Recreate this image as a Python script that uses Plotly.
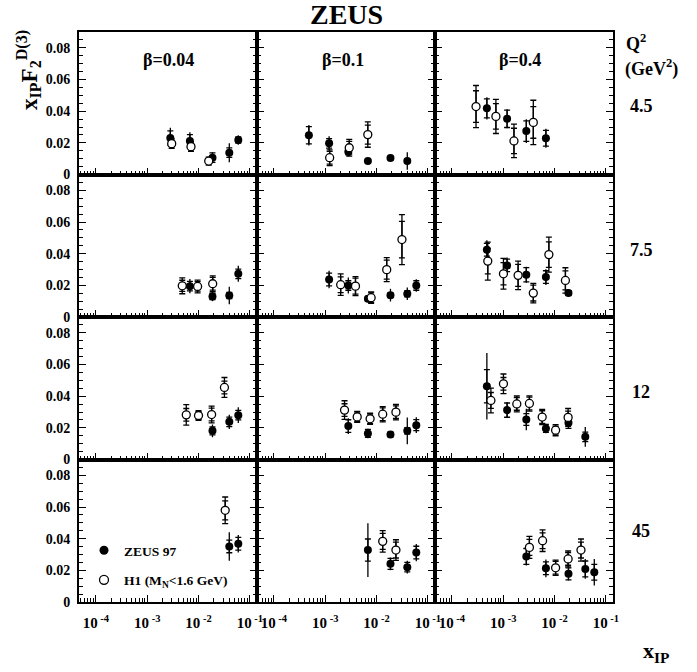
import plotly.graph_objects as go
from plotly.subplots import make_subplots

# Panel grid: beta across columns, Q^2 down rows
betas = [0.04, 0.1, 0.4]
beta_labels = ["β=0.04", "β=0.1", "β=0.4"]
q2_values = [4.5, 7.5, 12, 45]
q2_labels = ["4.5", "7.5", "12", "45"]

x_tickvals = [1e-4, 1e-3, 1e-2, 1e-1]
x_ticktext = ["10<sup> -4</sup>", "10<sup> -3</sup>", "10<sup> -2</sup>", "10<sup> -1</sup>"]
y_tickvals = [0, 0.02, 0.04, 0.06, 0.08]
y_ticktext = ["0", "0.02", "0.04", "0.06", "0.08"]

# ZEUS 97 (LPS) measurements: beta, Q2, x_pom, x_pom*F2D3, stat error, total error
zeus_beta = [0.04]*5 + [0.04]*4 + [0.04]*3 + [0.04]*2 + \
            [0.1]*6 + [0.1]*6 + [0.1]*5 + [0.1]*4 + \
            [0.4]*4 + [0.4]*5 + [0.4]*6 + [0.4]*5
zeus_q2 = [4.5]*5 + [7.5]*4 + [12]*3 + [45]*2 + \
          [4.5]*6 + [7.5]*6 + [12]*5 + [45]*4 + \
          [4.5]*4 + [7.5]*5 + [12]*6 + [45]*5
zeus_xpom = [0.00282, 0.00679, 0.0187, 0.0398, 0.0596,
             0.00679, 0.0187, 0.0398, 0.0596,
             0.0187, 0.0398, 0.0596,
             0.0398, 0.0596,
             0.00048, 0.00119, 0.00282, 0.00679, 0.0187, 0.0398,
             0.00119, 0.00282, 0.00679, 0.0187, 0.0398, 0.0596,
             0.00282, 0.00679, 0.0187, 0.0398, 0.0596,
             0.00679, 0.0187, 0.0398, 0.0596,
             0.00048, 0.00119, 0.00282, 0.00679,
             0.00048, 0.00119, 0.00282, 0.00679, 0.0187,
             0.00048, 0.00119, 0.00282, 0.00679, 0.0187, 0.0398,
             0.00282, 0.00679, 0.0187, 0.0398, 0.0596]
zeus_f2 = [0.0231, 0.0212, 0.0106, 0.0138, 0.0218,
           0.0195, 0.0130, 0.0136, 0.0273,
           0.0181, 0.0238, 0.0280,
           0.0351, 0.0368,
           0.0248, 0.0197, 0.0144, 0.0085, 0.0104, 0.0085,
           0.0237, 0.0199, 0.0115, 0.0138, 0.0147, 0.0199,
           0.0211, 0.0165, 0.0158, 0.0181, 0.0217,
           0.0328, 0.0241, 0.0220, 0.0312,
           0.0418, 0.0352, 0.0274, 0.0229,
           0.0425, 0.0326, 0.0267, 0.0252, 0.0151,
           0.0463, 0.0312, 0.0253, 0.0196, 0.0232, 0.0143,
           0.0288, 0.0213, 0.0178, 0.0209, 0.0188]
zeus_stat = [0.0045, 0.004, 0.003, 0.003, 0.002,
             0.003, 0.002, 0.002, 0.003,
             0.0025, 0.003, 0.003,
             0.004, 0.004,
             0.0055, 0.003, 0.002, 0.001, 0.001, 0.001,
             0.004, 0.003, 0.0015, 0.0015, 0.002, 0.003,
             0.004, 0.0025, 0.0015, 0.002, 0.0035,
             0.007, 0.0035, 0.003, 0.004,
             0.006, 0.0055, 0.0065, 0.005,
             0.004, 0.004, 0.0045, 0.004, 0.0015,
             0.0105, 0.0045, 0.0037, 0.0025, 0.0035, 0.003,
             0.005, 0.004, 0.0038, 0.005, 0.005]
zeus_tot = [0.0065, 0.0055, 0.0035, 0.006, 0.003,
            0.0045, 0.003, 0.0055, 0.005,
            0.004, 0.0045, 0.005,
            0.009, 0.0055,
            0.0065, 0.0045, 0.003, 0.0015, 0.0015, 0.0055,
            0.0055, 0.005, 0.002, 0.004, 0.004, 0.004,
            0.005, 0.003, 0.002, 0.0085, 0.005,
            0.017, 0.004, 0.004, 0.0055,
            0.007, 0.006, 0.0075, 0.006,
            0.006, 0.005, 0.005, 0.005, 0.002,
            0.021, 0.005, 0.0068, 0.003, 0.004, 0.0063,
            0.0057, 0.0056, 0.0042, 0.0062, 0.0083]

# H1 (M_N < 1.6 GeV) measurements
h1_beta = [0.04]*3 + [0.04]*3 + [0.04]*4 + [0.04]*1 + \
          [0.1]*3 + [0.1]*5 + [0.1]*5 + [0.1]*2 + \
          [0.4]*4 + [0.4]*6 + [0.4]*7 + [0.4]*5
h1_q2 = [4.5]*3 + [7.5]*3 + [12]*4 + [45]*1 + \
        [4.5]*3 + [7.5]*5 + [12]*5 + [45]*2 + \
        [4.5]*4 + [7.5]*6 + [12]*7 + [45]*5
h1_xpom = [0.0030, 0.00713, 0.0158,
           0.00482, 0.0096, 0.0189,
           0.00577, 0.0100, 0.0180, 0.0320,
           0.0331,
           0.00122, 0.00294, 0.00676,
           0.0020, 0.00389, 0.00785, 0.0158, 0.0313,
           0.00238, 0.0042, 0.0075, 0.0132, 0.0239,
           0.0132, 0.0239,
           0.000295, 0.00072, 0.00162, 0.00386,
           0.0005, 0.00101, 0.00195, 0.00386, 0.00776, 0.0163,
           0.000575, 0.00101, 0.00184, 0.00324, 0.00575, 0.0105, 0.0184,
           0.00324, 0.00585, 0.0105, 0.0184, 0.0328]
h1_f2 = [0.0195, 0.0176, 0.0085,
         0.0197, 0.0193, 0.0210,
         0.0282, 0.0278, 0.0284, 0.0455,
         0.0579,
         0.0106, 0.0169, 0.0252,
         0.0204, 0.0195, 0.0122, 0.0299, 0.0489,
         0.0312, 0.0269, 0.0257, 0.0286, 0.0299,
         0.0383, 0.0328,
         0.0429, 0.0367, 0.0212, 0.0329,
         0.0353, 0.0273, 0.0263, 0.0151, 0.0394, 0.0231,
         0.0373, 0.0478, 0.0351, 0.0354, 0.0268, 0.0185, 0.0266,
         0.0345, 0.0387, 0.0216, 0.0272, 0.0328]
h1_stat = [0.002, 0.002, 0.0015,
           0.0035, 0.003, 0.004,
           0.004, 0.0025, 0.004, 0.004,
           0.006,
           0.004, 0.004, 0.006,
           0.005, 0.005, 0.003, 0.006, 0.0115,
           0.004, 0.003, 0.003, 0.004, 0.004,
           0.005, 0.005,
           0.010, 0.008, 0.008, 0.010,
           0.008, 0.007, 0.007, 0.005, 0.008, 0.006,
           0.005, 0.004, 0.004, 0.004, 0.004, 0.0025, 0.004,
           0.005, 0.005, 0.004, 0.004, 0.005]
h1_tot = [0.003, 0.003, 0.0025,
          0.005, 0.004, 0.005,
          0.0065, 0.003, 0.0053, 0.0063,
          0.0084,
          0.005, 0.0053, 0.008,
          0.0068, 0.006, 0.0036, 0.0076, 0.0158,
          0.0059, 0.0035, 0.0035, 0.0048, 0.0049,
          0.0068, 0.0065,
          0.0133, 0.0108, 0.0106, 0.014,
          0.012, 0.0097, 0.009, 0.0062, 0.0111, 0.008,
          0.0078, 0.0062, 0.005, 0.0048, 0.0048, 0.0035, 0.0056,
          0.0069, 0.0068, 0.0048, 0.005, 0.007]

W, H = 697, 672
ML, MR, MT, MB = 79, 84, 32, 70
FONT = "Liberation Serif"


def px_x(px):
    return (px - ML) / (W - ML - MR)


def px_y(py):
    return (H - MB - py) / (H - MT - MB)


fig = make_subplots(rows=4, cols=3, horizontal_spacing=0, vertical_spacing=0)

minor_x = [m * 10.0**e for e in range(-5, 0) for m in range(2, 10)]


def select(betas_col, q2_col, cols, b, q):
    idx = [i for i in range(len(betas_col)) if betas_col[i] == b and q2_col[i] == q]
    return [[c[i] for i in idx] for c in cols]


for r, q in enumerate(q2_values, start=1):
    for c, b in enumerate(betas, start=1):
        for series, filled in (((zeus_beta, zeus_q2, zeus_xpom, zeus_f2, zeus_stat, zeus_tot), True),
                               ((h1_beta, h1_q2, h1_xpom, h1_f2, h1_stat, h1_tot), False)):
            xs, ys, st, tt = select(series[0], series[1], series[2:], b, q)
            if not xs:
                continue
            # total uncertainty
            fig.add_trace(go.Scatter(
                x=xs, y=ys, mode="markers",
                marker=dict(size=1, color="rgba(0,0,0,0)"),
                error_y=dict(type="data", array=tt, visible=True,
                             width=0 if filled else 3, thickness=1.3, color="black"),
                showlegend=False, hoverinfo="skip"), row=r, col=c)
            # statistical uncertainty and points
            if filled:
                mk = dict(symbol="circle", size=8, color="black")
            else:
                mk = dict(symbol="circle", size=8, color="white",
                          line=dict(color="black", width=1.3))
            fig.add_trace(go.Scatter(
                x=xs, y=ys, mode="markers", marker=mk,
                error_y=dict(type="data", array=st, visible=True,
                             width=3, thickness=1.3, color="black"),
                showlegend=False), row=r, col=c)

        fig.update_xaxes(
            type="log", range=[-4.33, -0.86],
            showline=True, linewidth=2, linecolor="black", mirror=True,
            showgrid=False, zeroline=False,
            ticks="inside", ticklen=7, tickwidth=1, tickcolor="black",
            tickmode="array", tickvals=x_tickvals, ticktext=x_ticktext,
            showticklabels=(r == 4), ticklabelstandoff=6,
            tickfont=dict(family=FONT, size=15, color="black", weight="bold"),
            minor=dict(ticks="inside", ticklen=4, tickwidth=1, tickcolor="black",
                       tickmode="array", tickvals=minor_x),
            row=r, col=c)
        fig.update_yaxes(
            range=[0, 0.09],
            showline=True, linewidth=2, linecolor="black", mirror="allticks",
            showgrid=False, zeroline=False,
            ticks="inside", ticklen=7, tickwidth=1, tickcolor="black",
            tickmode="array", tickvals=y_tickvals, ticktext=y_ticktext,
            showticklabels=(c == 1), ticklabelstandoff=4,
            tickfont=dict(family=FONT, size=14, color="black", weight="bold"),
            minor=dict(ticks="inside", ticklen=4, tickwidth=1, tickcolor="black",
                       tick0=0, dtick=0.005),
            row=r, col=c)

# legend entries
fig.add_trace(go.Scatter(x=[None], y=[None], mode="markers", name="ZEUS 97",
                         legendgroup="a",
                         marker=dict(symbol="circle", size=9, color="black")),
              row=4, col=1)
fig.add_trace(go.Scatter(x=[None], y=[None], mode="markers",
                         name="H1 (M<sub>N</sub>&lt;1.6 GeV)", legendgroup="b",
                         marker=dict(symbol="circle", size=9, color="white",
                                     line=dict(color="black", width=1.3))),
              row=4, col=1)


def label(text, px, py, size, **kw):
    return dict(text=text, x=px_x(px), y=px_y(py), xref="paper", yref="paper",
                xanchor="center", yanchor="middle", showarrow=False,
                font=dict(family=FONT, size=size, color="black", weight="bold"), **kw)


ann = [label("ZEUS", 346, 15, 28)]
beta_px = [168, 343, 520]
for lbl, bx in zip(beta_labels, beta_px):
    ann.append(label(lbl, bx, 60, 18))
ann.append(label("Q<sup>2</sup>", 636, 42, 18))
ann.append(label("(GeV<sup>2</sup>)", 651, 68, 18))
q_py = [106, 250, 392, 531]
for lbl, qy in zip(q2_labels, q_py):
    ann.append(label(lbl, 641, qy, 18))
ann.append(label("x<sub>IP</sub>F<sub>2</sub><sup>D(3)</sup>", 28, 70, 23, textangle=-90))
ann.append(label("x<sub>IP</sub>", 656, 652, 22))

fig.update_layout(
    width=W, height=H,
    margin=dict(l=ML, r=MR, t=MT, b=MB),
    paper_bgcolor="white", plot_bgcolor="white",
    annotations=ann,
    showlegend=True,
    legend=dict(x=px_x(84), y=px_y(535), xanchor="left", yanchor="top",
                bgcolor="rgba(0,0,0,0)", traceorder="grouped", tracegroupgap=9,
                font=dict(family=FONT, size=13.5, color="black", weight="bold")),
    font=dict(family=FONT, color="black"),
)

fig.write_html("out.html")
